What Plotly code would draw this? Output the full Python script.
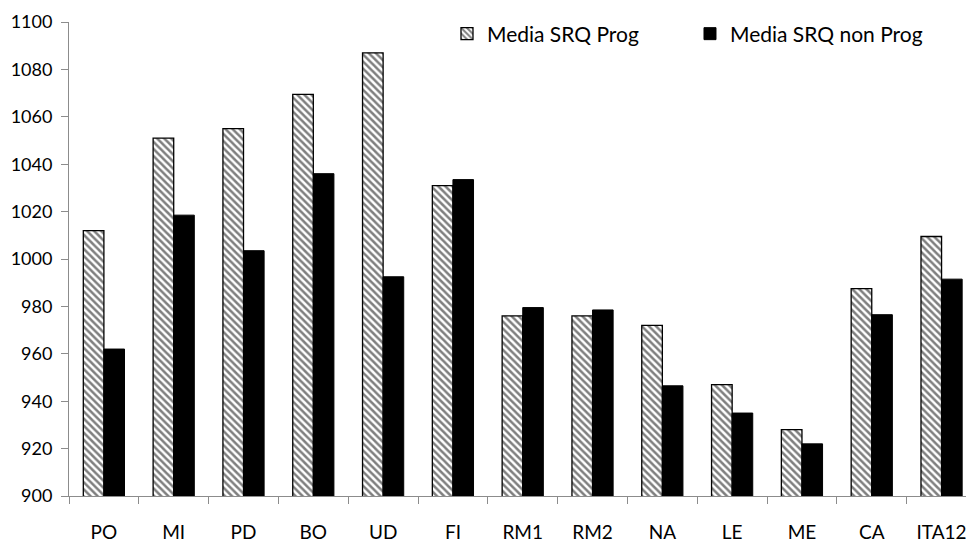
import plotly.graph_objects as go

categories = ["PO", "MI", "PD", "BO", "UD", "FI", "RM1", "RM2", "NA", "LE", "ME", "CA", "ITA12"]
media_prog = [1012, 1051, 1055, 1069.5, 1087, 1031, 976, 976, 972, 947, 928, 987.5, 1009.5]
media_non_prog = [962, 1018.5, 1003.5, 1036, 992.5, 1033.5, 979.5, 978.5, 946.5, 935, 922, 976.5, 991.5]
y_ticks = [900, 920, 940, 960, 980, 1000, 1020, 1040, 1060, 1080, 1100]

FONT = "Lato, 'Open Sans', sans-serif"
AXIS_COLOR = "#8c8c8c"

fig = go.Figure()
fig.add_trace(go.Bar(
    name="Media SRQ Prog",
    x=categories, y=media_prog,
    marker=dict(
        color="white",
        line=dict(color="black", width=1.3),
        pattern=dict(shape="\\", fgcolor="black", bgcolor="white", size=5, solidity=0.5),
    ),
))
fig.add_trace(go.Bar(
    name="Media SRQ non Prog",
    x=categories, y=media_non_prog,
    marker=dict(color="black", line=dict(color="black", width=1)),
))

fig.update_layout(
    width=966, height=543,
    margin=dict(l=69, r=0, t=22, b=47, autoexpand=False),
    paper_bgcolor="white", plot_bgcolor="white",
    barmode="group", bargap=0.41, bargroupgap=0,
    font=dict(family=FONT, color="black"),
    showlegend=True,
    legend=dict(
        orientation="h",
        x=0.4214, xanchor="left",
        y=0.9747, yanchor="middle",
        font=dict(family=FONT, size=21, color="black"),
        entrywidth=198, entrywidthmode="pixels",
        bgcolor="rgba(0,0,0,0)",
        traceorder="normal",
    ),
)
fig.update_xaxes(
    type="category",
    range=[-0.5, 12.35],
    automargin=False,
    showline=True, linecolor=AXIS_COLOR, linewidth=1,
    ticks="outside", tickson="boundaries", ticklen=7, tickcolor=AXIS_COLOR,
    tickfont=dict(family=FONT, size=19, color="black"),
    ticklabelstandoff=19,
    showgrid=False, zeroline=False,
)
fig.update_yaxes(
    range=[900, 1100],
    tickvals=y_ticks,
    automargin=False,
    showline=True, linecolor=AXIS_COLOR, linewidth=1,
    ticks="outside", ticklen=7, tickcolor=AXIS_COLOR,
    tickfont=dict(family=FONT, size=18, color="black"),
    ticklabelstandoff=5,
    showgrid=False, zeroline=False,
)

fig.write_html(
    "out.html",
    config={"displayModeBar": False},
    post_script="document.body.style.margin='0';document.body.style.overflow='hidden';",
)
